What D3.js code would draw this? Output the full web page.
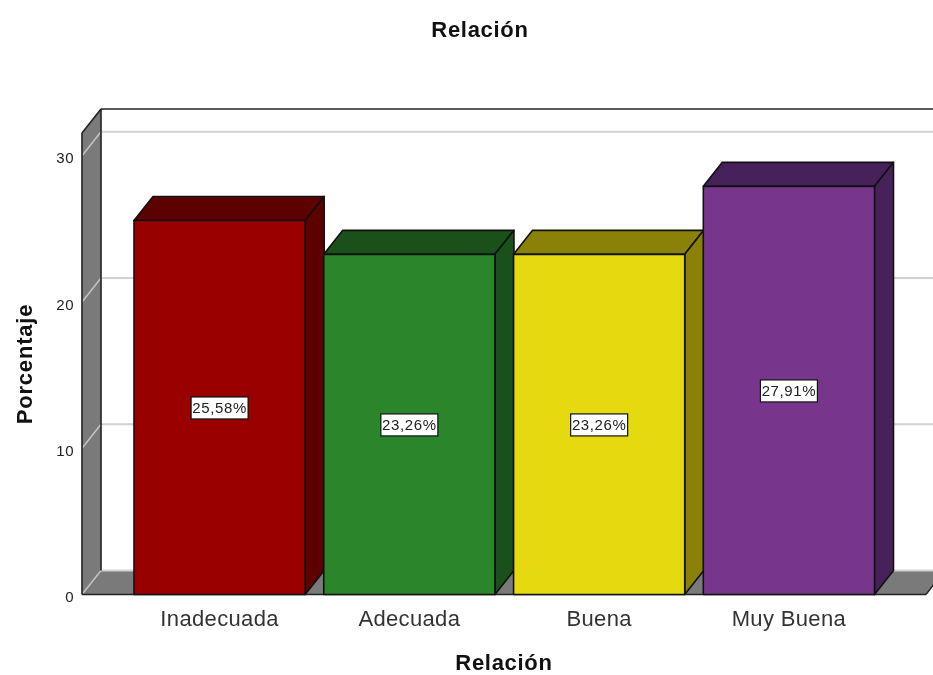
<!DOCTYPE html>
<html><head><meta charset="utf-8">
<script src="https://cdn.jsdelivr.net/npm/d3@7/dist/d3.min.js"></script>
<style>html,body{margin:0;padding:0;background:#fff;overflow:hidden}svg{display:block;filter:blur(0.35px)}text{font-family:"Liberation Sans",Arial,sans-serif}</style>
</head><body><script>
const categories = ["Inadecuada","Adecuada","Buena","Muy Buena"];
const values = [25.58,23.26,23.26,27.91];
const valueLabels = ["25,58%","23,26%","23,26%","27,91%"];
const faceColors = ["#990000","#2b862b","#e5d90f","#77368c"];
const darkColors = ["#5c0000","#1a501a","#8a8208","#47215a"];
const yTicks = [0,10,20,30];
const title = "Relación", xTitle = "Relación", yTitle = "Porcentaje";

const W=933,H=675,dx=19,dy=-24;
const y=d3.scaleLinear().domain([0,30]).range([594.5,155.8]);
const x=d3.scaleBand().domain(categories).range([134,874.5]).paddingInner(0.098);
const yMax=y.invert(133);
const svg=d3.select("body").append("svg").attr("width",W).attr("height",H).attr("viewBox",`0 0 ${W} ${H}`);
const poly=(pts,fill,sw=1.6,stroke="#111")=>svg.append("polygon").attr("points",pts.map(p=>p.join(",")).join(" ")).attr("fill",fill).attr("stroke",stroke).attr("stroke-width",sw).attr("stroke-linejoin","round");
const xL=82,xR=926,y0=y(0),yT=y(yMax);
const seg=(x1,y1,x2,y2,c,w)=>svg.append("line").attr("x1",x1).attr("y1",y1).attr("x2",x2).attr("y2",y2).attr("stroke",c).attr("stroke-width",w);

// back wall top line
seg(xL+dx,yT+dy,W+2,yT+dy,"#222",1.6);
// floor
poly([[xL,y0],[xL+dx,y0+dy],[xR+dx,y0+dy],[xR,y0]],"#7a7a7a",0,"none");
// left wall
poly([[xL,yT],[xL+dx,yT+dy],[xL+dx,y0+dy],[xL,y0]],"#7a7a7a",0,"none");
// gridlines on back wall, with their slanted part on the side wall and floor
svg.selectAll(".grid").data(yTicks).join("line")
  .attr("x1",xL+dx).attr("x2",W+2).attr("y1",d=>y(d)+dy).attr("y2",d=>y(d)+dy)
  .attr("stroke","#d2d2d2").attr("stroke-width",2);
svg.selectAll(".gridside").data(yTicks).join("line")
  .attr("x1",xL).attr("x2",xL+dx).attr("y1",d=>y(d)).attr("y2",d=>y(d)+dy)
  .attr("stroke","#c4c4c4").attr("stroke-width",1.5);
// wall outlines
seg(xL,yT,xL,y0,"#222",1.6);
seg(xL,yT,xL+dx,yT+dy,"#222",1.6);
seg(xL+dx,yT+dy,xL+dx,y0+dy,"#222",1.6);
seg(xR,y0,xR+dx,y0+dy,"#222",1.4);
// front baseline
seg(xL,y0,xR,y0,"#222",1.6);

// bars
categories.forEach((c,i)=>{
  const l=x(c),r=l+x.bandwidth(),t=y(values[i]);
  poly([[l,t],[l+dx,t+dy],[r+dx,t+dy],[r,t]],darkColors[i]);
  poly([[r,t],[r+dx,t+dy],[r+dx,y0+dy],[r,y0]],darkColors[i]);
  poly([[l,t],[r,t],[r,y0],[l,y0]],faceColors[i]);
  const cx=(l+r)/2, cy=(t+y0)/2+0.5;
  svg.append("rect").attr("x",cx-28.5).attr("y",cy-11).attr("width",57).attr("height",22).attr("fill","#fff").attr("stroke","#111").attr("stroke-width",1.2);
  svg.append("text").attr("x",cx).attr("y",cy+5.5).attr("text-anchor","middle").attr("font-size",15).attr("letter-spacing",0.6).attr("fill","#222").text(valueLabels[i]);
  svg.append("text").attr("x",cx).attr("y",626).attr("text-anchor","middle").attr("font-size",22).attr("letter-spacing",0.35).attr("fill","#333").text(c);
});
// y labels
svg.selectAll(".yl").data(yTicks).join("text").attr("x",74).attr("y",d=>y(d)+7.5).attr("text-anchor","end").attr("font-size",15).attr("letter-spacing",0.5).attr("fill","#222").text(d=>d);
// titles
svg.append("text").attr("x",480).attr("y",36.5).attr("text-anchor","middle").attr("font-size",22).attr("letter-spacing",0.7).attr("font-weight","bold").attr("fill","#111").text(title);
svg.append("text").attr("x",504).attr("y",670).attr("text-anchor","middle").attr("font-size",22).attr("letter-spacing",0.7).attr("font-weight","bold").attr("fill","#111").text(xTitle);
svg.append("text").attr("transform","translate(32,364) rotate(-90)").attr("text-anchor","middle").attr("font-size",22).attr("letter-spacing",0.8).attr("font-weight","bold").attr("fill","#111").text(yTitle);
</script></body></html>
